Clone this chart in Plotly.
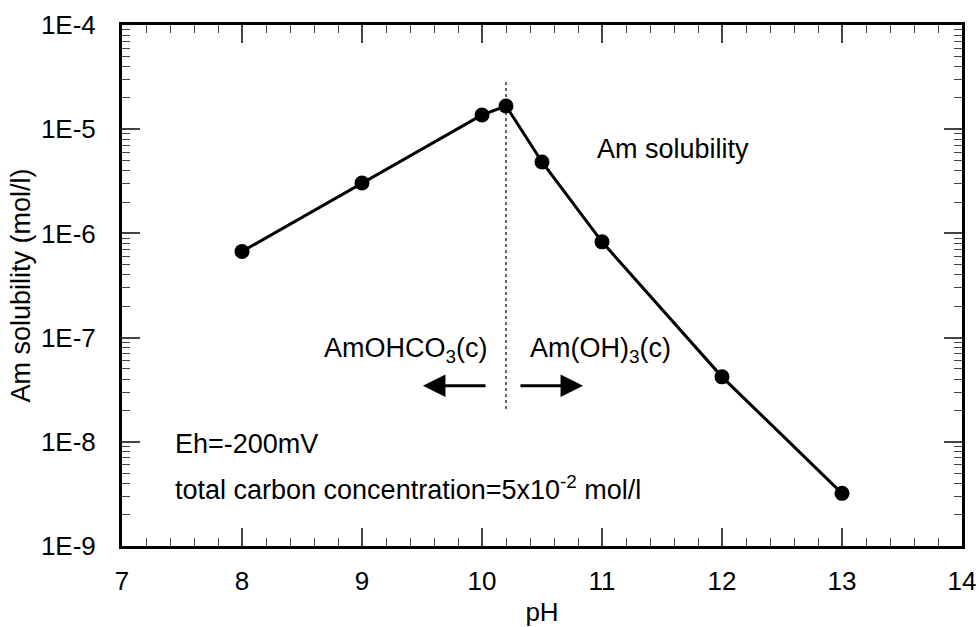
import plotly.graph_objects as go
import math

ph = [8, 9, 10, 10.2, 10.5, 11, 12, 13]
solubility = [6.7e-7, 3.05e-6, 1.37e-5, 1.67e-5, 4.85e-6, 8.3e-7, 4.2e-8, 3.2e-9]

boundary_ph = 10.2
boundary_y = [2.84e-5, 1.93e-8]

x_ticks = [7, 8, 9, 10, 11, 12, 13, 14]
y_tickvals = [1e-9, 1e-8, 1e-7, 1e-6, 1e-5, 1e-4]
y_ticktext = ["1E-9", "1E-8", "1E-7", "1E-6", "1E-5", "1E-4"]

FONT = "Liberation Sans, Arial, Helvetica, sans-serif"

fig = go.Figure()
fig.add_trace(go.Scatter(
    x=[boundary_ph, boundary_ph], y=boundary_y, mode="lines",
    line=dict(color="#333333", width=1.5, dash="dot"), showlegend=False,
    hoverinfo="skip"))
fig.add_trace(go.Scatter(
    x=ph, y=solubility, mode="lines+markers",
    line=dict(color="black", width=3),
    marker=dict(color="black", size=15),
    showlegend=False))

annots = []
def txt(x, y, text, xanchor="left"):
    annots.append(dict(x=x, y=math.log10(y), xref="x", yref="y", text=text,
                       showarrow=False, xanchor=xanchor, yanchor="middle",
                       font=dict(family=FONT, size=27, color="black")))

txt(7.425, 9.6e-9, "Eh=-200mV")
txt(7.425, 3.6e-9, "total carbon concentration=5x10<sup>-2</sup> mol/l")
txt(10.94, 6.4e-6, "Am solubility")
txt(10.065, 7.6e-8, "AmOHCO<sub>3</sub>(c)", xanchor="right")
txt(10.383, 7.6e-8, "Am(OH)<sub>3</sub>(c)")

arrow_y = 3.45e-8
for tail, head in [(10.042, 9.508), (10.308, 10.842)]:
    annots.append(dict(x=head, y=math.log10(arrow_y), ax=tail, ay=math.log10(arrow_y),
                       xref="x", yref="y", axref="x", ayref="y", text="",
                       showarrow=True, arrowhead=2, arrowsize=1.5, arrowwidth=3,
                       arrowcolor="black"))

fig.update_layout(
    width=979, height=627,
    margin=dict(l=122, r=17, t=25, b=81),
    paper_bgcolor="white", plot_bgcolor="white",
    font=dict(family=FONT, size=26, color="black"),
    annotations=annots,
    xaxis=dict(
        range=[7, 14], tickvals=x_ticks, ticks="inside", ticklen=18, tickwidth=1.5,
        showline=True, linewidth=3, linecolor="black", mirror="allticks",
        showgrid=False, zeroline=False, ticklabelstandoff=10, automargin=False,
        minor=dict(ticks="inside", ticklen=8, tickwidth=1.2, dtick=0.2, showgrid=False),
        title=dict(text="pH", font=dict(size=26), standoff=9),
        tickfont=dict(size=26),
    ),
    yaxis=dict(
        type="log", range=[-9, -4], tickvals=y_tickvals, ticktext=y_ticktext,
        ticks="inside", ticklen=18, tickwidth=1.5,
        showline=True, linewidth=3, linecolor="black", mirror="allticks",
        showgrid=False, zeroline=False, ticklabelstandoff=18, automargin=False,
        minor=dict(ticks="inside", ticklen=8, tickwidth=1.2, dtick="D1", showgrid=False),
        title=dict(text="Am solubility (mol/l)", font=dict(size=27), standoff=3),
        tickfont=dict(size=26),
    ),
)

fig.write_html("out.html")
